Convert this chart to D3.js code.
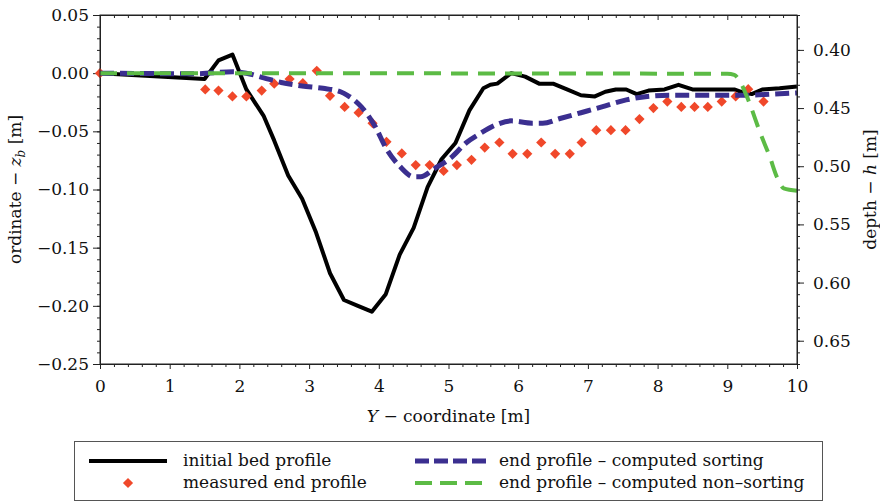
<!DOCTYPE html>
<html>
<head>
<meta charset="utf-8">
<script src="https://cdn.jsdelivr.net/npm/d3@7"></script>
<style>
  body { margin: 0; background: #fff; }
  svg text { font-family: "DejaVu Serif", serif; fill: #111; }
  .axis path, .axis line { stroke: #222; }
</style>
</head>
<body>
<div class="vis-profile"></div>
<script>
// initial bed profile
const bedX = [0, 1.5, 1.7, 1.9, 2.1, 2.35, 2.5, 2.7, 2.9, 3.1, 3.3, 3.5, 3.7, 3.9, 4.1, 4.3, 4.5, 4.7, 4.9, 5.1,
  5.3, 5.5, 5.6, 5.7, 5.9, 6.1, 6.3, 6.5, 6.7, 6.9, 7.1, 7.25, 7.4, 7.55, 7.7, 7.87, 8.1, 8.3, 8.5, 8.7,
  9.1, 9.2, 9.35, 9.5, 9.75, 10];
const bedZ = [0, -0.005, 0.011, 0.016, -0.014, -0.037, -0.058, -0.088, -0.108, -0.137, -0.172, -0.195, -0.2, -0.205, -0.19, -0.156, -0.133, -0.098, -0.074, -0.06,
  -0.032, -0.013, -0.01, -0.009, 0, -0.003, -0.009, -0.009, -0.014, -0.019, -0.02, -0.016, -0.014, -0.014, -0.018, -0.015, -0.014, -0.01, -0.014, -0.014,
  -0.014, -0.016, -0.018, -0.014, -0.013, -0.0115];

// measured end profile
const measX = [0, 1.51, 1.7, 1.9, 2.1, 2.32, 2.5, 2.72, 2.91, 3.11, 3.3, 3.51, 3.71, 3.91, 4.11, 4.33, 4.53, 4.73, 4.93, 5.12,
  5.33, 5.52, 5.73, 5.92, 6.13, 6.33, 6.53, 6.74, 6.91, 7.12, 7.33, 7.54, 7.74, 7.94, 8.14, 8.34, 8.53, 8.72, 8.92, 9.12,
  9.3, 9.52];
const measZ = [0, -0.014, -0.015, -0.02, -0.02, -0.015, -0.009, -0.005, -0.0086, 0.002, -0.0195, -0.029, -0.034, -0.043, -0.059, -0.069, -0.079, -0.079, -0.084, -0.079,
  -0.0745, -0.064, -0.0596, -0.0693, -0.0693, -0.0596, -0.0693, -0.0693, -0.0596, -0.049, -0.049, -0.049, -0.0395, -0.03, -0.0244, -0.029, -0.029, -0.029, -0.0244, -0.02,
  -0.0138, -0.0244];

// end profile - computed sorting
const sortX = [0, 1.4, 1.9, 2.1, 2.35, 2.6, 2.9, 3.2, 3.45, 3.55, 3.75, 3.95, 4.1, 4.3, 4.5, 4.6, 4.8, 5.05, 5.25, 5.45,
  5.7, 5.9, 6.2, 6.35, 6.6, 6.9, 7.2, 7.55, 7.85, 8.2, 8.6, 9.0, 9.3, 9.65, 10];
const sortZ = [0, -0.0005, 0.0012, 0, -0.004, -0.008, -0.011, -0.013, -0.016, -0.019, -0.029, -0.046, -0.064, -0.08, -0.089, -0.089, -0.082, -0.072, -0.06, -0.052,
  -0.044, -0.041, -0.043, -0.043, -0.039, -0.034, -0.029, -0.023, -0.02, -0.019, -0.019, -0.019, -0.019, -0.018, -0.017];

// end profile - computed non-sorting
const nonSortX = [0, 9.0, 9.1, 9.18, 9.32, 9.47, 9.61, 9.71, 9.81, 10];
const nonSortZ = [0, -0.0005, -0.0015, -0.007, -0.026, -0.051, -0.072, -0.089, -0.099, -0.101];

// ticks
const xTicks = [0, 1, 2, 3, 4, 5, 6, 7, 8, 9, 10];
const zTicks = [-0.25, -0.2, -0.15, -0.1, -0.05, 0, 0.05];
const hTicks = [0.40, 0.45, 0.50, 0.55, 0.60, 0.65];

const legendLabels = ["initial bed profile", "measured end profile",
  "end profile \u2013 computed sorting", "end profile \u2013 computed non\u2013sorting"];

const draw = () => {
    const W = 880, H = 502;
    const plot = {left: 100, right: 797, top: 15, bottom: 364};

    let svg = d3.select('.vis-profile')
                .append('svg')
                .attr('width', W)
                .attr('height', H);

    const xScale = d3.scaleLinear().domain([0, 10]).range([plot.left, plot.right]);
    const yScale = d3.scaleLinear().domain([-0.25, 0.05]).range([plot.bottom, plot.top]);
    // depth h = 0.42 - z_b
    const hScale = d3.scaleLinear().domain([0.37, 0.67]).range([plot.top, plot.bottom]);

    const fmt2 = d3.format(".2f");
    const xMinor = d3.range(0, 51).map(i => i * 0.2).filter(v => !xTicks.includes(Math.round(v * 10) / 10));
    const zMinor = d3.range(-25, 6).map(i => i / 100);
    const hMinor = d3.range(37, 68).map(i => i / 100);

    // minor ticks first
    svg.append("g").attr("class", "axis")
        .attr("transform", "translate(0," + plot.bottom + ")")
        .call(d3.axisBottom(xScale).tickValues(xMinor).tickSize(3).tickSizeOuter(0).tickFormat(""));
    svg.append("g").attr("class", "axis")
        .attr("transform", "translate(0," + plot.top + ")")
        .call(d3.axisBottom(xScale).tickValues(xMinor).tickSize(3).tickSizeOuter(0).tickFormat(""));
    svg.append("g").attr("class", "axis")
        .attr("transform", "translate(" + plot.left + ",0)")
        .call(d3.axisLeft(yScale).tickValues(zMinor).tickSize(3).tickSizeOuter(0).tickFormat(""));
    svg.append("g").attr("class", "axis")
        .attr("transform", "translate(" + plot.right + ",0)")
        .call(d3.axisRight(hScale).tickValues(hMinor).tickSize(3).tickSizeOuter(0).tickFormat(""));

    // X axis bottom
    svg.append("g").attr("class", "axis")
        .attr("transform", "translate(0," + plot.bottom + ")")
        .call(d3.axisBottom(xScale).tickValues(xTicks).tickSize(5).tickSizeOuter(0).tickPadding(11).tickFormat(d3.format("d")))
        .style("font", "17px 'DejaVu Serif'");
    // top axis, ticks pointing down
    svg.append("g").attr("class", "axis")
        .attr("transform", "translate(0," + plot.top + ")")
        .call(d3.axisBottom(xScale).tickValues(xTicks).tickSize(5).tickSizeOuter(0).tickFormat(""));

    // Y axis left
    svg.append("g").attr("class", "axis")
        .attr("transform", "translate(" + plot.left + ",0)")
        .call(d3.axisLeft(yScale).tickValues(zTicks).tickSize(7).tickSizeOuter(0).tickPadding(4).tickFormat(fmt2))
        .style("font", "17px 'DejaVu Serif'");
    // right axis: depth
    svg.append("g").attr("class", "axis")
        .attr("transform", "translate(" + plot.right + ",0)")
        .call(d3.axisRight(hScale).tickValues(hTicks).tickSize(7).tickSizeOuter(0).tickPadding(9).tickFormat(fmt2))
        .style("font", "17px 'DejaVu Serif'");

    svg.selectAll(".axis text").attr("fill", "#111");

    // axis titles
    let xt = svg.append("text")
        .attr("x", (plot.left + plot.right) / 2)
        .attr("y", 422)
        .attr("text-anchor", "middle")
        .style("font-size", "17px");
    xt.append("tspan").style("font-style", "italic").text("Y");
    xt.append("tspan").text(" \u2212 coordinate [m]");

    let yt = svg.append("text")
        .attr("transform", "translate(21," + (plot.top + plot.bottom) / 2 + ") rotate(-90)")
        .attr("text-anchor", "middle")
        .style("font-size", "17px");
    yt.append("tspan").text("ordinate \u2212 ");
    yt.append("tspan").style("font-style", "italic").text("z");
    yt.append("tspan").style("font-style", "italic").style("font-size", "12px").attr("dy", 4).text("b");
    yt.append("tspan").attr("dy", -4).text(" [m]");

    let ht = svg.append("text")
        .attr("transform", "translate(876," + (plot.top + plot.bottom) / 2 + ") rotate(-90)")
        .attr("text-anchor", "middle")
        .style("font-size", "17px");
    ht.append("tspan").text("depth \u2212 ");
    ht.append("tspan").style("font-style", "italic").text("h");
    ht.append("tspan").text(" [m]");

    // series
    const zip = (xs, zs) => xs.map((x, i) => ({x: x, z: zs[i]}));
    const line = d3.line()
        .x(d => xScale(d.x))
        .y(d => yScale(d.z));

    let g = svg.append("g");

    g.append("path")
        .datum(zip(bedX, bedZ))
        .attr("fill", "none")
        .attr("stroke", "#000")
        .attr("stroke-width", 4)
        .attr("stroke-linejoin", "round")
        .attr("d", line);

    const diamond = d3.symbol().type(d3.symbolSquare).size(52);
    g.selectAll(".dot")
        .data(zip(measX, measZ))
        .enter()
        .append("path")
        .attr("class", "dot")
        .attr("d", diamond)
        .attr("fill", "#f0482a")
        .attr("transform", d => "translate(" + xScale(d.x) + "," + yScale(d.z) + ") rotate(45)");

    g.append("path")
        .datum(zip(sortX, sortZ))
        .attr("fill", "none")
        .attr("stroke", "#3b2f90")
        .attr("stroke-width", 5)
        .attr("stroke-dasharray", "14,6")
        .attr("d", line.curve(d3.curveMonotoneX));

    g.append("path")
        .datum(zip(nonSortX, nonSortZ))
        .attr("fill", "none")
        .attr("stroke", "#5cbb45")
        .attr("stroke-width", 4)
        .attr("stroke-dasharray", "17,10")
        .attr("d", line.curve(d3.curveMonotoneX));

    // frame on top of everything
    svg.append("rect")
        .attr("x", plot.left).attr("y", plot.top)
        .attr("width", plot.right - plot.left).attr("height", plot.bottom - plot.top)
        .attr("fill", "none").attr("stroke", "#222").attr("stroke-width", 1);

    // legend
    let lg = svg.append("g");
    lg.append("rect")
        .attr("x", 74.5).attr("y", 441.5)
        .attr("width", 748).attr("height", 59)
        .attr("fill", "#fff").attr("stroke", "#555").attr("stroke-width", 1);

    const rows = [461, 483];
    lg.append("line").attr("x1", 89).attr("x2", 167).attr("y1", rows[0]).attr("y2", rows[0])
        .attr("stroke", "#000").attr("stroke-width", 4);
    lg.append("path").attr("d", diamond)
        .attr("fill", "#f0482a")
        .attr("transform", "translate(128," + rows[1] + ") rotate(45)");
    lg.append("line").attr("x1", 415).attr("x2", 486).attr("y1", rows[0]).attr("y2", rows[0])
        .attr("stroke", "#3b2f90").attr("stroke-width", 5).attr("stroke-dasharray", "14,5");
    lg.append("line").attr("x1", 415).attr("x2", 483).attr("y1", rows[1]).attr("y2", rows[1])
        .attr("stroke", "#5cbb45").attr("stroke-width", 4).attr("stroke-dasharray", "17,8");

    const textPos = [[183, rows[0]], [183, rows[1]], [499, rows[0]], [499, rows[1]]];
    lg.selectAll(".legend-text")
        .data(legendLabels)
        .enter()
        .append("text")
        .attr("class", "legend-text")
        .attr("x", (d, i) => textPos[i][0])
        .attr("y", (d, i) => textPos[i][1] + 5)
        .style("font-size", "17px")
        .text(d => d);
}

draw();
</script>
</body>
</html>
